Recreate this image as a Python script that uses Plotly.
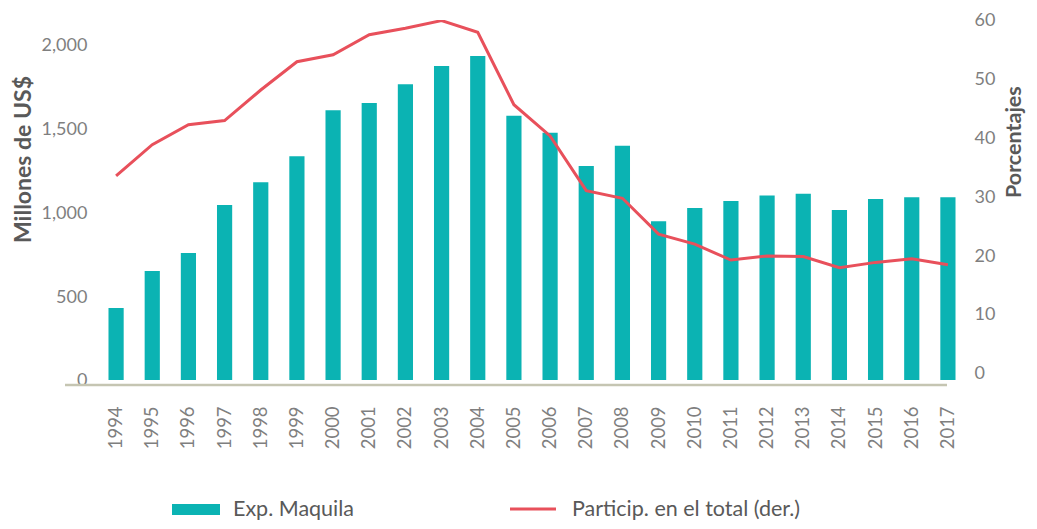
import plotly.graph_objects as go

years = [str(y) for y in range(1994, 2018)]
exp_maquila = [430, 650, 758, 1045, 1180, 1335, 1611, 1653, 1766, 1874, 1934, 1578,
               1476, 1278, 1399, 947, 1027, 1069, 1102, 1112, 1015, 1081, 1091, 1091]
particip = [33.5, 38.8, 42.2, 42.9, 48.1, 52.9, 54.1, 57.5, 58.6, 59.9, 57.9, 45.6,
            40.3, 31.0, 29.7, 23.6, 21.9, 19.2, 19.9, 19.8, 17.9, 18.8, 19.4, 18.4]
left_ticks = [0, 500, 1000, 1500, 2000]
right_ticks = [0, 10, 20, 30, 40, 50, 60]

TEAL = "#0bb3b3"
RED = "#e8505b"
FONT = "Lato"
OFF = 8  # page body margin
W, H = 1037 - 2 * OFF, 529 - 2 * OFF
L, T = 98 - OFF, 20 - OFF
R = W - (966 - OFF)
B = H - (380 - OFF)
pw, ph = W - L - R, H - T - B

def px(x):
    return (x - OFF - L) / pw

def py(y):
    return (H - B - (y - OFF)) / ph

fig = go.Figure()
fig.add_trace(go.Bar(x=years, y=exp_maquila, marker=dict(color=TEAL, line=dict(width=0)),
                     name="Exp. Maquila", showlegend=False))
fig.add_trace(go.Scatter(x=years, y=particip, yaxis="y2", mode="lines",
                         line=dict(color=RED, width=3), cliponaxis=False,
                         name="Particip. en el total (der.)", showlegend=False))

fig.update_layout(
    width=W, height=H,
    margin=dict(l=L, r=R, t=T, b=B, autoexpand=False),
    paper_bgcolor="white", plot_bgcolor="white",
    bargap=0.58,
    font=dict(family=FONT, color="#7f7f7f"),
    xaxis=dict(type="category", tickangle=-90, showgrid=False, showline=False, automargin=False,
               ticks="outside", ticklen=18, tickcolor="rgba(0,0,0,0)",
               tickfont=dict(size=18.5, color="#7f7f7f")),
    yaxis=dict(range=[0, 2149], tickvals=left_ticks, ticktext=[f"{v:,}" for v in left_ticks],
               showgrid=False, zeroline=False, showline=False, automargin=False,
               ticks="outside", ticklen=6, tickcolor="rgba(0,0,0,0)",
               tickfont=dict(size=18, color="#7f7f7f")),
    yaxis2=dict(range=[-1.19, 60], overlaying="y", side="right", tickvals=right_ticks,
                showgrid=False, zeroline=False, showline=False, automargin=False,
                ticks="outside", ticklen=4, tickcolor="rgba(0,0,0,0)",
                tickfont=dict(size=18, color="#7f7f7f")),
)

# baseline
fig.add_shape(type="line", xref="paper", yref="paper", x0=px(65), x1=px(947),
              y0=py(385), y1=py(385), line=dict(color="#c5c5b2", width=2.5))

# axis titles
fig.add_annotation(xref="paper", yref="paper", x=px(22), y=py(160), text="<b>Millones de US$</b>",
                   textangle=-90, showarrow=False, xanchor="center", yanchor="middle",
                   font=dict(size=23, color="#595959", family=FONT))
fig.add_annotation(xref="paper", yref="paper", x=px(1013), y=py(142), text="<b>Porcentajes</b>",
                   textangle=-90, showarrow=False, xanchor="center", yanchor="middle",
                   font=dict(size=21.5, color="#595959", family=FONT))

# legend
fig.add_shape(type="rect", xref="paper", yref="paper", x0=px(172), x1=px(220),
              y0=py(515), y1=py(504), fillcolor=TEAL, line=dict(width=0))
fig.add_annotation(xref="paper", yref="paper", x=px(231), y=py(508), text="Exp. Maquila",
                   xanchor="left", yanchor="middle", showarrow=False,
                   font=dict(size=21.5, color="#595959", family=FONT))
fig.add_shape(type="line", xref="paper", yref="paper", x0=px(510), x1=px(556),
              y0=py(509), y1=py(509), line=dict(color=RED, width=3))
fig.add_annotation(xref="paper", yref="paper", x=px(570), y=py(508), text="Particip. en el total (der.)",
                   xanchor="left", yanchor="middle", showarrow=False,
                   font=dict(size=21.5, color="#595959", family=FONT))

fig.write_html("out.html")
